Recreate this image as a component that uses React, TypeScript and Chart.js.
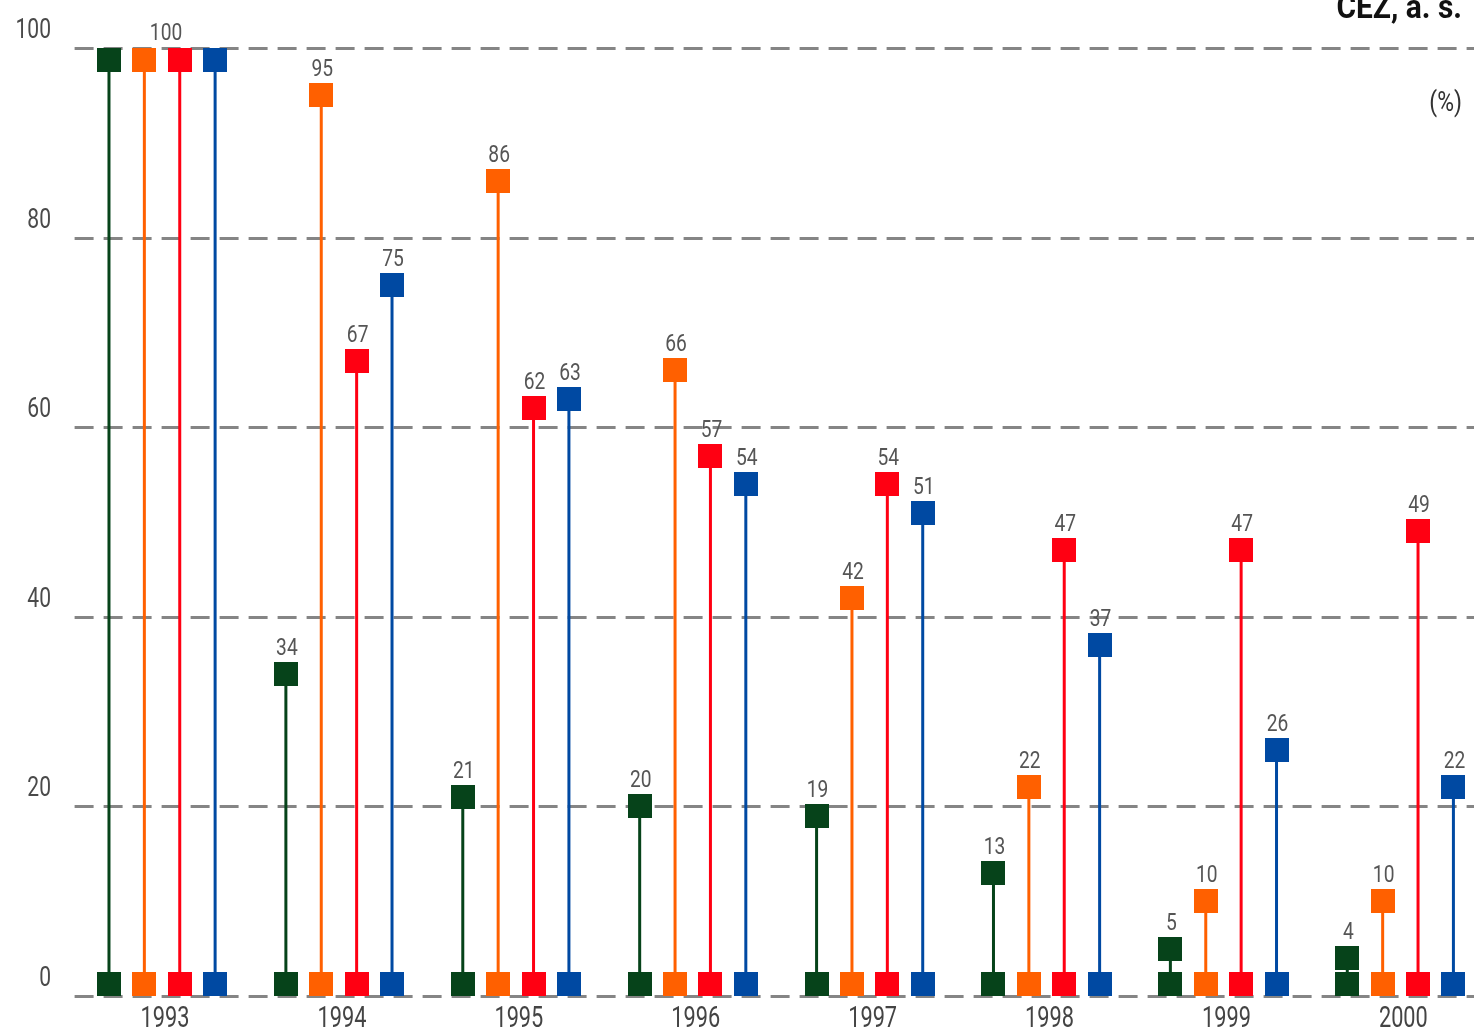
import React, { useEffect, useRef } from "react";
import { Chart, registerables } from "chart.js";

Chart.register(...registerables);

const YEARS = ["1993", "1994", "1995", "1996", "1997", "1998", "1999", "2000"];
const SERIES_A = [100, 34, 21, 20, 19, 13, 5, 4];
const SERIES_B = [100, 95, 86, 66, 42, 22, 10, 10];
const SERIES_C = [100, 67, 62, 57, 54, 47, 47, 49];
const SERIES_D = [100, 75, 63, 54, 51, 37, 26, 22];
const Y_TICKS = [0, 20, 40, 60, 80, 100];
const TITLE = "ČEZ, a. s.";
const UNIT = "(%)";

const COLORS = ["#06431a", "#ff6000", "#ff0012", "#0049a2"];

const CANVAS_W = 1490;
const CANVAS_H = 1030;

function drawText(
  ctx: CanvasRenderingContext2D,
  text: string,
  x: number,
  y: number,
  font: string,
  color: string,
  align: "left" | "right" | "center",
  scaleX: number
) {
  ctx.save();
  ctx.font = font;
  ctx.fillStyle = color;
  ctx.textBaseline = "alphabetic";
  ctx.textAlign = align;
  ctx.translate(x, y);
  ctx.scale(scaleX, 1);
  ctx.fillText(text, 0, 0);
  ctx.restore();
}

const lollipopPlugin = {
  id: "lollipop",
  beforeDatasetsDraw(chart: any) {
    const ctx: CanvasRenderingContext2D = chart.ctx;
    const y = chart.scales.y;
    const area = chart.chartArea;
    ctx.save();
    ctx.strokeStyle = "#858585";
    ctx.lineWidth = 3;
    ctx.setLineDash([19, 10]);
    Y_TICKS.forEach((v) => {
      const py = Math.round(y.getPixelForValue(v)) + 0.5;
      ctx.beginPath();
      ctx.moveTo(area.left + 1, py);
      ctx.lineTo(CANVAS_W, py);
      ctx.stroke();
    });
    ctx.restore();
    Y_TICKS.forEach((v) => {
      const py = y.getPixelForValue(v);
      drawText(ctx, String(v), 51, py - 10, "27px Roboto", "#4a4a4a", "right", 0.78);
    });
  },
  afterDatasetsDraw(chart: any) {
    const ctx: CanvasRenderingContext2D = chart.ctx;
    const xs = chart.scales.x;
    const area = chart.chartArea;
    const S = 24;
    const n = chart.data.datasets.length;
    const topOf = (el: any) => Math.max(Math.round(el.y - S / 2), Math.round(area.top));
    chart.data.datasets.forEach((ds: any, di: number) => {
      const meta = chart.getDatasetMeta(di);
      meta.data.forEach((el: any) => {
        ctx.fillStyle = COLORS[di];
        ctx.fillRect(Math.round(el.x - S / 2), topOf(el), S, S);
        ctx.fillRect(Math.round(el.x - S / 2), Math.round(el.base - S), S, S);
      });
    });
    chart.data.labels.forEach((_: any, i: number) => {
      const vals = chart.data.datasets.map((d: any) => d.data[i]);
      const allSame = vals.every((v: number) => v === vals[0]);
      if (allSame) {
        const el = chart.getDatasetMeta(0).data[i];
        drawText(ctx, String(vals[0]), xs.getPixelForValue(i) + 4, topOf(el) - 8, "24px Roboto", "#555", "center", 0.8);
      } else {
        for (let di = 0; di < n; di++) {
          const el = chart.getDatasetMeta(di).data[i];
          drawText(ctx, String(vals[di]), el.x + 1, topOf(el) - 7, "24px Roboto", "#555", "center", 0.8);
        }
      }
    });
    YEARS.forEach((yr, i) => {
      drawText(ctx, yr, xs.getPixelForValue(i) + 3, 1027, "29px Roboto", "#444", "center", 0.75);
    });
    drawText(ctx, TITLE, 1462, 18, "bold 34px Roboto", "#111", "right", 0.88);
    drawText(ctx, UNIT, 1462, 111, "27px Roboto", "#333", "right", 0.85);
  },
};

export default function App() {
  const ref = useRef<HTMLCanvasElement | null>(null);
  useEffect(() => {
    if (!ref.current) return;
    const chart = new Chart(ref.current, {
      type: "bar",
      data: {
        labels: YEARS,
        datasets: [SERIES_A, SERIES_B, SERIES_C, SERIES_D].map((d, i) => ({
          label: "s" + i,
          data: d,
          backgroundColor: COLORS[i],
          borderWidth: 0,
          maxBarThickness: 3,
          categoryPercentage: 0.8,
          barPercentage: 1,
        })),
      },
      options: {
        responsive: false,
        animation: false,
        devicePixelRatio: 1,
        layout: { padding: { left: 73.6, right: 1.2, top: 48, bottom: 34 } },
        plugins: { legend: { display: false }, tooltip: { enabled: false } },
        scales: {
          x: { display: false },
          y: { display: false, min: 0, max: 100 },
        },
      },
      plugins: [lollipopPlugin],
    });
    return () => chart.destroy();
  }, []);
  return (
    <div style={{ position: "fixed", left: 0, top: 0, width: 1474, height: 1030, overflow: "hidden", background: "#fff" }}>
      <canvas ref={ref} width={CANVAS_W} height={CANVAS_H} style={{ display: "block" }} />
    </div>
  );
}
